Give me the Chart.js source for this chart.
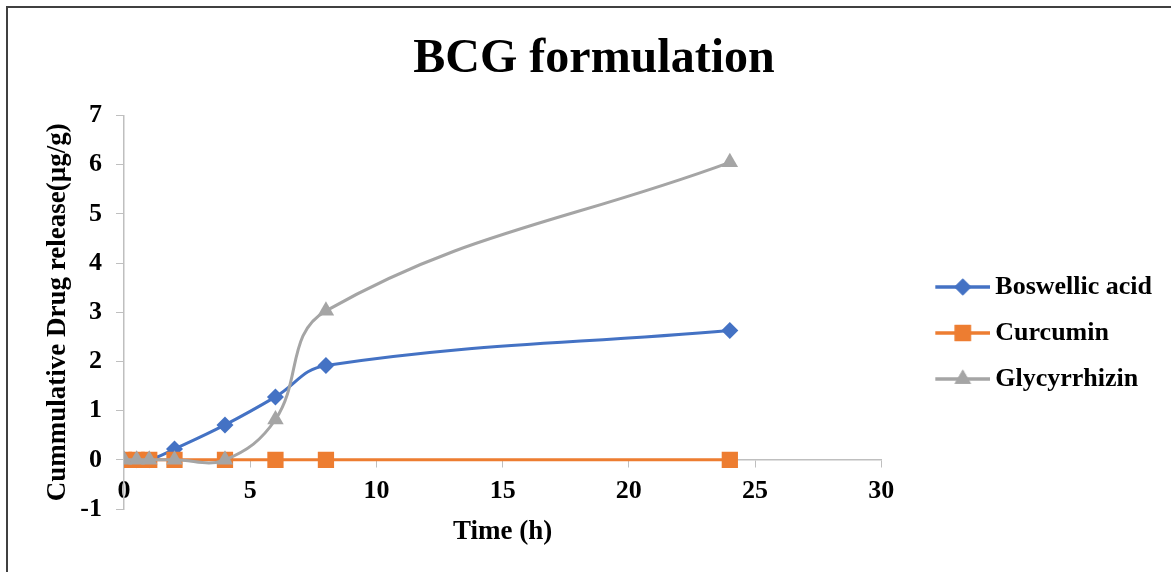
<!DOCTYPE html>
<html lang="en">
<head>
  <meta charset="UTF-8">
  <title>BCG formulation</title>
  <style>
    body { margin: 0; background: #fff; }
    #wrap { position: relative; width: 1171px; height: 572px; overflow: hidden; }
    #frame { position: absolute; left: 6px; top: 6px; right: -10px; bottom: -10px; border-left: 2px solid #404040; border-top: 2px solid #404040; pointer-events: none; }
  </style>
</head>
<body>
  <div id="wrap">
    <canvas id="chart" width="1171" height="572"></canvas>
    <div id="frame"></div>
  </div>

  <script src="https://cdn.jsdelivr.net/npm/chart.js"></script>
  <script>
    // data
    const times = [0, 0.5, 1, 2, 4, 6, 8, 24];
    const boswellic = [0, 0, 0, 0.22, 0.71, 1.28, 1.92, 2.63];
    const curcumin = [0, 0, 0, 0, 0, 0, 0, 0];
    const glycyrrhizin = [0, 0, 0, 0, 0, 0.82, 3.03, 6.05];

    const names = ['Boswellic acid', 'Curcumin', 'Glycyrrhizin'];
    const colors = ['#4472C4', '#ED7D31', '#A5A5A5'];
    const styles = ['rectRot', 'rect', 'triangle'];
    const radii = [8.5, 11.5, 9.5];

    const serif = "'Liberation Serif', 'Times New Roman', serif";

    function pts(vals) {
      return times.map((t, i) => ({ x: t, y: vals[i] }));
    }

    // legend icon: line with the marker in the middle (left part left empty on purpose)
    function legendIcon(i) {
      const c = document.createElement('canvas');
      c.width = 97; c.height = 24;
      const g = c.getContext('2d');
      g.strokeStyle = colors[i];
      g.lineWidth = 3.5;
      g.beginPath(); g.moveTo(42, 12); g.lineTo(97, 12); g.stroke();
      g.fillStyle = colors[i];
      Chart.helpers.drawPoint(g, { pointStyle: styles[i], radius: radii[i], borderWidth: 0 }, 69.5, 12);
      g.fill();
      return c;
    }

    const series = [boswellic, curcumin, glycyrrhizin];
    const datasets = series.map((vals, i) => ({
      label: names[i],
      data: pts(vals),
      borderColor: colors[i],
      backgroundColor: colors[i],
      borderWidth: 3,
      tension: 0.4,
      pointStyle: styles[i],
      pointRadius: radii[i],
      pointBorderWidth: 0,
      order: 3 - i
    }));

    const icons = [0, 1, 2].map(legendIcon);

    new Chart(document.getElementById('chart'), {
      type: 'line',
      data: { datasets },
      options: {
        responsive: false,
        animation: false,
        layout: { padding: { left: 26, right: 9, top: 0, bottom: 63 } },
        plugins: {
          title: {
            display: true,
            text: 'BCG formulation',
            color: '#000',
            font: { family: serif, size: 48, weight: 'bold' },
            padding: { top: 31, bottom: 27 }
          },
          legend: {
            position: 'right',
            title: { display: true, text: ' ', font: { size: 10 }, padding: { top: 0, bottom: 145 } },
            labels: {
              usePointStyle: true,
              pointStyleWidth: 81,
              color: '#000',
              padding: 20,
              font: { family: serif, size: 26, weight: 'bold' },
              generateLabels: (chart) => names.map((n, i) => ({
                text: n,
                fontColor: '#000',
                fillStyle: colors[i],
                strokeStyle: colors[i],
                lineWidth: 0,
                pointStyle: icons[i],
                datasetIndex: i,
                hidden: false
              }))
            }
          },
          tooltip: { enabled: false }
        },
        scales: {
          x: {
            type: 'linear',
            position: { y: 0 },
            min: 0, max: 30,
            ticks: { stepSize: 5, color: '#000', padding: 9, font: { family: serif, size: 26, weight: 'bold' } },
            grid: { drawOnChartArea: false, tickLength: 7, color: '#BFBFBF' },
            border: { color: '#BFBFBF', width: 1.5 },
            title: { display: true, text: 'Time (h)', color: '#000', padding: { top: 0 }, font: { family: serif, size: 27, weight: 'bold' } }
          },
          y: {
            min: -1, max: 7,
            afterFit: (scale) => { scale.width = 98; },
            ticks: { stepSize: 1, color: '#000', padding: 14, font: { family: serif, size: 26, weight: 'bold' } },
            grid: { drawOnChartArea: false, tickLength: 8, color: '#BFBFBF' },
            border: { color: '#BFBFBF', width: 1.5 },
            title: { display: true, text: 'Cummulative Drug release(µg/g)', color: '#000', padding: { top: 16, bottom: 6 }, font: { family: serif, size: 27, weight: 'bold' } }
          }
        }
      }
    });
  </script>
</body>
</html>
